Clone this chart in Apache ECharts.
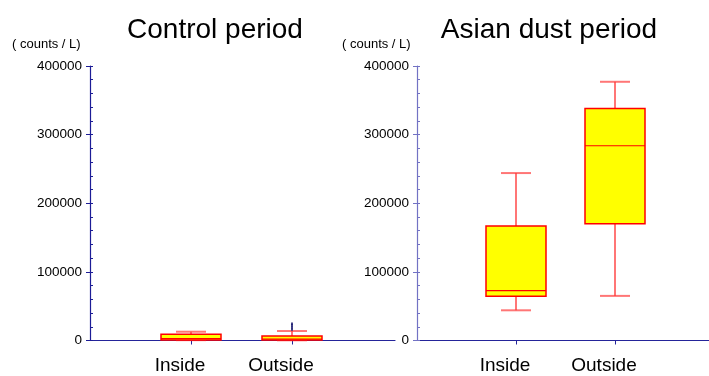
<!DOCTYPE html>
<html>
<head>
<meta charset="utf-8">
<script src="https://cdn.jsdelivr.net/npm/echarts@6/dist/echarts.min.js"></script>
<style>
  html, body { margin: 0; padding: 0; background: #fff; }
  #chart { width: 709px; height: 376px; }
</style>
</head>
<body>
<div id="chart"></div>
<script>
// Sampling sites and y-axis ticks
const categories = ['Inside', 'Outside'];
const yTicks = [0, 100000, 200000, 300000, 400000];
const panelTitles = ['Control period', 'Asian dust period'];
const unitLabel = '( counts / L)';

// Box statistics per site: [min, Q1, median, Q3, max] in counts / L
const controlStats = [
  [500, 800, 2600, 9000, 12800],
  [300, 600, 2200, 6400, 13800]
];
const dustStats = [
  [44000, 64500, 72800, 167000, 244000],
  [65000, 170000, 283800, 338000, 377000]
];
// Outlying samples (site index, value)
const controlOutliers = [[1, 16000], [1, 19000], [1, 22000], [1, 24500]];
const dustOutliers = [];

const FONT = 'Liberation Sans, Arial, sans-serif';
const NAVY = '#24249a';

function boxData(stats) {
  return stats.map((s, i) => [i + 1].concat(s));
}

function renderBox(params, api) {
  const x = api.value(0);
  const pMin = api.coord([x, api.value(1)]);
  const pQ1 = api.coord([x, api.value(2)]);
  const pMed = api.coord([x, api.value(3)]);
  const pQ3 = api.coord([x, api.value(4)]);
  const pMax = api.coord([x, api.value(5)]);
  const cx = pMin[0];
  const half = 30, cap = 15;
  const whisker = { stroke: 'rgba(255,60,60,0.7)', lineWidth: 2 };
  return {
    type: 'group',
    children: [
      { type: 'line', shape: { x1: cx, y1: pMax[1], x2: cx, y2: pQ3[1] }, style: whisker },
      { type: 'line', shape: { x1: cx, y1: pQ1[1], x2: cx, y2: pMin[1] }, style: whisker },
      { type: 'line', shape: { x1: cx - cap, y1: pMax[1], x2: cx + cap, y2: pMax[1] }, style: whisker },
      { type: 'line', shape: { x1: cx - cap, y1: pMin[1], x2: cx + cap, y2: pMin[1] }, style: whisker },
      { type: 'rect', shape: { x: cx - half, y: pQ3[1], width: 2 * half, height: pQ1[1] - pQ3[1] },
        style: { fill: '#ffff00', stroke: '#ff0000', lineWidth: 1.5 } },
      { type: 'line', shape: { x1: cx - half, y1: pMed[1], x2: cx + half, y2: pMed[1] },
        style: { stroke: '#ff0000', lineWidth: 1.2 } }
    ]
  };
}

// Two panels: axis start / end in px and px per site step
const panels = [
  { left: 90, right: 395, step: 101, stats: controlStats, outliers: controlOutliers, yColor: '#1c1c96' },
  { left: 417, right: 709, step: 99, stats: dustStats, outliers: dustOutliers, yColor: '#7272c4' }
];

const grid = [], xAxis = [], yAxis = [], series = [], title = [];
panels.forEach((p, k) => {
  grid.push({ left: p.left, width: p.right - p.left, top: 66, bottom: 35.5 });
  xAxis.push({
    type: 'value', gridIndex: k, min: 0, max: (p.right - p.left) / p.step,
    axisLine: { show: true, onZero: false, lineStyle: { color: NAVY, width: 1.2 } },
    splitLine: { show: false },
    axisTick: { show: true, customValues: [1, 2], length: 4, lineStyle: { color: NAVY } },
    axisLabel: {
      customValues: [1, 2], margin: 16, fontSize: 19, color: '#000', fontFamily: FONT,
      padding: [0, 22, 0, 0],
      formatter: v => categories[Math.round(v) - 1] || ''
    }
  });
  // major ticks with labels (outside)
  yAxis.push({
    type: 'value', gridIndex: k, min: yTicks[0], max: yTicks[yTicks.length - 1], interval: 100000,
    axisLine: { show: true, lineStyle: { color: p.yColor, width: 1.2 } },
    axisTick: { show: true, length: 4, lineStyle: { color: p.yColor } },
    splitLine: { show: false },
    axisLabel: { margin: 8, fontSize: 13.5, color: '#000', fontFamily: FONT,
      padding: [4, 0, 0, 0], formatter: v => String(v) }
  });
  // minor ticks (inside)
  yAxis.push({
    type: 'value', gridIndex: k, min: yTicks[0], max: yTicks[yTicks.length - 1], interval: 20000, position: 'left',
    axisLine: { show: false },
    axisTick: { show: true, inside: true, length: 3, lineStyle: { color: p.yColor } },
    splitLine: { show: false },
    axisLabel: { show: false }
  });
  series.push({
    type: 'custom', xAxisIndex: k, yAxisIndex: 2 * k,
    renderItem: renderBox, data: boxData(p.stats), z: 3
  });
  series.push({
    type: 'scatter', xAxisIndex: k, yAxisIndex: 2 * k,
    symbol: 'rect', symbolSize: [2, 2.5],
    itemStyle: { color: '#10106a' },
    data: p.outliers.map(o => [o[0] + 1, o[1]]), z: 4
  });
});

title.push(
  { text: panelTitles[0], left: 210, top: 11, textAlign: 'center',
    textStyle: { fontSize: 28, fontWeight: 'normal', color: '#000', fontFamily: FONT } },
  { text: panelTitles[1], left: 544, top: 11, textAlign: 'center',
    textStyle: { fontSize: 28, fontWeight: 'normal', color: '#000', fontFamily: FONT } },
  { text: unitLabel, left: 7, top: 33,
    textStyle: { fontSize: 13, fontWeight: 'normal', color: '#000', fontFamily: FONT } },
  { text: unitLabel, left: 337, top: 33,
    textStyle: { fontSize: 13, fontWeight: 'normal', color: '#000', fontFamily: FONT } }
);

const chart = echarts.init(document.getElementById('chart'), null, { renderer: 'canvas' });
chart.setOption({
  animation: false,
  backgroundColor: '#fff',
  title, grid, xAxis,
  yAxis: yAxis.map((a, i) => Object.assign(a, { gridIndex: Math.floor(i / 2) })),
  series
});
</script>
</body>
</html>
